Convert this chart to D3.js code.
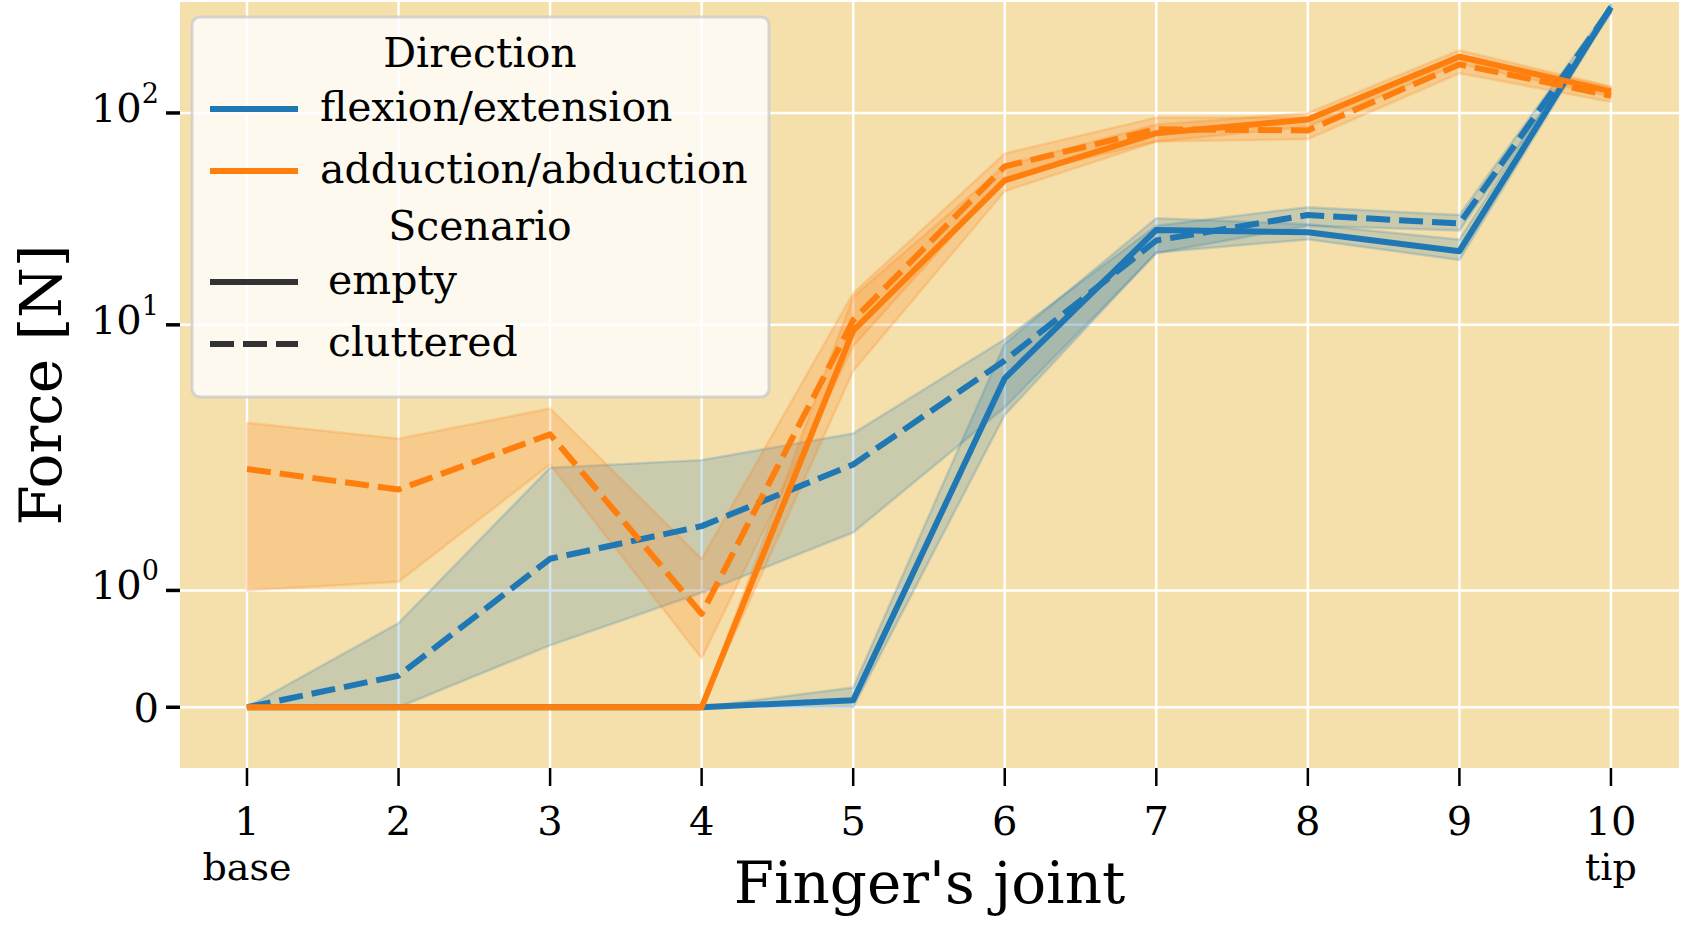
<!DOCTYPE html>
<html>
<head>
<meta charset="utf-8">
<script src="https://cdn.jsdelivr.net/npm/d3@7"></script>
<style>
  body { margin: 0; background: #ffffff; }
  text { font-family: "DejaVu Serif", serif; fill: #000; }
</style>
</head>
<body>
<svg id="chart" width="1687" height="927"></svg>
<script>
// joints along the finger
var joints = [1, 2, 3, 4, 5, 6, 7, 8, 9, 10]
var jointSubLabels = ["base", "", "", "", "", "", "", "", "", "tip"]

// flexion/extension, empty scene
var flexEmpty   = [0, 0, 0, 0, 0.06, 5.75, 27.7, 27, 22, 322]
var flexEmptyLo = [0, 0, 0, 0, 0, 4.0, 21.7, 25, 20, 308]
var flexEmptyHi = [0, 0, 0, 0, 0.17, 8.2, 31.5, 29.5, 25, 334]
// flexion/extension, cluttered scene
var flexClut   = [0, 0.27, 1.21, 1.52, 2.52, 6.9, 24.7, 32.6, 29.7, 318]
var flexClutLo = [0, 0, 0.53, 0.98, 1.45, 4.3, 21.5, 29, 27.5, 300]
var flexClutHi = [0, 0.72, 2.45, 2.62, 3.35, 8.6, 29, 35.5, 32.6, 330]
// adduction/abduction, empty scene
var addEmpty   = [0, 0, 0, 0, 9.4, 47.6, 80, 93, 186, 127]
var addEmptyLo = [0, 0, 0, 0, 6.2, 42.3, 73, 86, 172, 120]
var addEmptyHi = [0, 0, 0, 0, 13.5, 56, 88, 100, 200, 134]
// adduction/abduction, cluttered scene
var addClut   = [2.42, 2.03, 3.32, 0.80, 10.5, 55.5, 83.6, 82.5, 171, 121]
var addClutLo = [1.0, 1.05, 2.52, 0.42, 8.0, 49, 73, 75, 155, 113]
var addClutHi = [3.71, 3.19, 4.26, 1.21, 14, 64, 95, 95, 190, 133]

var yTickValues = [0, 1, 10, 100]
var yTickExp = [null, "0", "1", "2"]

var blue = "#1f77b4", orange = "#ff7f0e"
var dashed = "24,9"
var series = [
  {name: "flexion/extension", scen: "empty", color: blue, v: flexEmpty, lo: flexEmptyLo, hi: flexEmptyHi, dash: null},
  {name: "flexion/extension", scen: "cluttered", color: blue, v: flexClut, lo: flexClutLo, hi: flexClutHi, dash: dashed},
  {name: "adduction/abduction", scen: "empty", color: orange, v: addEmpty, lo: addEmptyLo, hi: addEmptyHi, dash: null},
  {name: "adduction/abduction", scen: "cluttered", color: orange, v: addClut, lo: addClutLo, hi: addClutHi, dash: dashed}
]

// symlog-like transform used by the figure: linear below 1, log above
var linPart = 0.5625
function tf(v) {
  if (v <= 1) return v * linPart
  return linPart + Math.log10(v - 0.5) + Math.log10(2)
}

var svg = d3.select("#chart")
var pLeft = 180, pRight = 1679, pTop = 2, pBottom = 768

var x = d3.scaleLinear().domain([0.558, 10.449]).range([pLeft, pRight])
var yT = d3.scaleLinear().domain([tf(-0.52), tf(341)]).range([pBottom, pTop])
function y(v) { return yT(tf(v)) }

// background
svg.append("rect")
    .attr("x", pLeft).attr("y", pTop)
    .attr("width", pRight - pLeft).attr("height", pBottom - pTop)
    .attr("fill", "#f5dfab")

// grid
svg.append("g").selectAll("line").data(joints).enter().append("line")
    .attr("x1", function(d){ return x(d) }).attr("x2", function(d){ return x(d) })
    .attr("y1", pTop).attr("y2", pBottom)
    .attr("stroke", "#ffffff").attr("stroke-width", 2.5)
svg.append("g").selectAll("line").data(yTickValues).enter().append("line")
    .attr("x1", pLeft).attr("x2", pRight)
    .attr("y1", function(d){ return y(d) }).attr("y2", function(d){ return y(d) })
    .attr("stroke", "#ffffff").attr("stroke-width", 2.5)

// bands then lines
var area = d3.area()
    .x(function(d){ return x(d.j) })
    .y0(function(d){ return y(d.lo) })
    .y1(function(d){ return y(d.hi) })
var line = d3.line()
    .x(function(d){ return x(d.j) })
    .y(function(d){ return y(d.v) })

series.forEach(function(s) {
    var pts = joints.map(function(j, i){ return {j: j, v: s.v[i], lo: s.lo[i], hi: s.hi[i]} })
    svg.append("path").datum(pts)
        .attr("d", area)
        .attr("fill", s.color).attr("fill-opacity", 0.2)
        .attr("stroke", s.color).attr("stroke-opacity", 0.2).attr("stroke-width", 2.5)
        .attr("stroke-linejoin", "round")
})
series.forEach(function(s) {
    var pts = joints.map(function(j, i){ return {j: j, v: s.v[i]} })
    svg.append("path").datum(pts)
        .attr("d", line)
        .attr("fill", "none")
        .attr("stroke", s.color).attr("stroke-width", 6)
        .attr("stroke-dasharray", s.dash)
        .attr("stroke-linejoin", "round")
})

// x axis ticks & labels
var xAxis = svg.append("g")
xAxis.selectAll("line").data(joints).enter().append("line")
    .attr("x1", function(d){ return x(d) }).attr("x2", function(d){ return x(d) })
    .attr("y1", pBottom).attr("y2", pBottom + 18)
    .attr("stroke", "#000").attr("stroke-width", 2.5)
xAxis.selectAll("text.num").data(joints).enter().append("text")
    .attr("class", "num")
    .attr("x", function(d){ return x(d) }).attr("y", pBottom + 67)
    .attr("text-anchor", "middle").attr("font-size", 40)
    .text(function(d){ return d })
xAxis.selectAll("text.sub").data(joints).enter().append("text")
    .attr("class", "sub")
    .attr("x", function(d){ return x(d) }).attr("y", pBottom + 112)
    .attr("text-anchor", "middle").attr("font-size", 38)
    .text(function(d, i){ return jointSubLabels[i] })

// y axis ticks & labels
var yAxis = svg.append("g")
yAxis.selectAll("line").data(yTickValues).enter().append("line")
    .attr("x1", pLeft - 14).attr("x2", pLeft)
    .attr("y1", function(d){ return y(d) }).attr("y2", function(d){ return y(d) })
    .attr("stroke", "#000").attr("stroke-width", 3.5)
yTickValues.forEach(function(v, i) {
    var t = yAxis.append("text")
        .attr("x", 159).attr("text-anchor", "end").attr("font-size", 40)
    if (yTickExp[i] === null) {
        t.attr("y", y(v) + 15).text(v)
    } else {
        t.attr("y", y(v) + 9)
        t.append("tspan").text("10")
        t.append("tspan").attr("font-size", 27).attr("dy", -19).text(yTickExp[i])
    }
})

// axis titles
svg.append("text")
    .attr("x", (pLeft + pRight) / 2).attr("y", 903)
    .attr("text-anchor", "middle").attr("font-size", 58)
    .text("Finger's joint")
svg.append("text")
    .attr("transform", "translate(61," + ((pTop + pBottom) / 2) + ") rotate(-90)")
    .attr("text-anchor", "middle").attr("font-size", 58)
    .text("Force [N]")

// legend (semi-transparent box like matplotlib's framealpha 0.8)
var lg = svg.append("g")
lg.append("rect")
    .attr("x", 192).attr("y", 17).attr("width", 577).attr("height", 380)
    .attr("rx", 8)
    .attr("fill", "#ffffff").attr("fill-opacity", 0.8)
    .attr("stroke", "#cccccc").attr("stroke-opacity", 0.8).attr("stroke-width", 3)

var legendRows = [
    {type: "title", text: "Direction", y: 67},
    {type: "item", text: "flexion/extension", color: blue, dash: null, y: 109, tx: 320},
    {type: "item", text: "adduction/abduction", color: orange, dash: null, y: 171, tx: 320},
    {type: "title", text: "Scenario", y: 240},
    {type: "item", text: "empty", color: "#333333", dash: null, y: 282, tx: 328},
    {type: "item", text: "cluttered", color: "#333333", dash: dashed, y: 344, tx: 328}
]
legendRows.forEach(function(r) {
    if (r.type === "title") {
        lg.append("text").attr("x", 480).attr("y", r.y)
            .attr("text-anchor", "middle").attr("font-size", 41)
            .text(r.text)
    } else {
        lg.append("line")
            .attr("x1", 210).attr("x2", 298).attr("y1", r.y).attr("y2", r.y)
            .attr("stroke", r.color).attr("stroke-width", 6)
            .attr("stroke-dasharray", r.dash)
        lg.append("text").attr("x", r.tx).attr("y", r.y + 12)
            .attr("font-size", 41)
            .text(r.text)
    }
})
</script>
</body>
</html>
